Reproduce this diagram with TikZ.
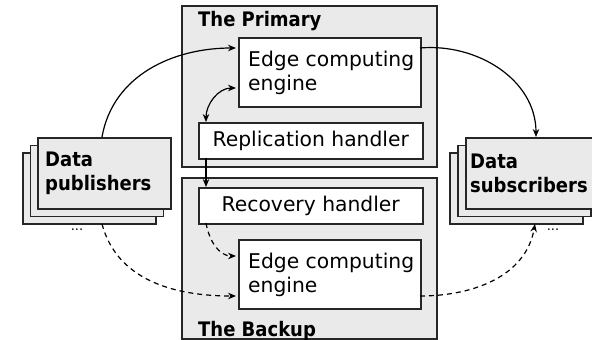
\documentclass[tikz,border=0pt]{standalone}
\usepackage{fontspec}
\setmainfont{DejaVu Sans}
\newfontfamily\condfont{DejaVu Sans Condensed}
\usetikzlibrary{arrows.meta}
\definecolor{panel}{HTML}{EAEAEA}
\tikzset{
  panelbox/.style={draw=black!85, line width=1.5pt, fill=panel},
  whitebox/.style={draw=black!85, line width=1.5pt, fill=white, anchor=north west, inner sep=0pt},
  stackbox/.style={draw=black!85, line width=1.5pt, fill=panel, anchor=north west, inner sep=0pt, minimum width=133pt, minimum height=71pt},
  regtxt/.style={font=\fontsize{20.3}{23.5}\selectfont},
  boldtxt/.style={font=\condfont\bfseries\fontsize{20}{24}\selectfont},
  arr/.style={line width=1.2pt, -{Stealth[length=8pt,width=6.5pt]}},
  darr/.style={line width=1.2pt, {Stealth[length=8pt,width=6.5pt]}-{Stealth[length=8pt,width=6.5pt]}},
  dasharr/.style={arr, dashed, dash pattern=on 5pt off 4pt}
}
\begin{document}
\begin{tikzpicture}[x=1pt,y=-1pt]
\useasboundingbox (0,0) rectangle (592,340);
\clip (0,0) rectangle (592,340);
% containers
\draw[panelbox] (182,6) rectangle (437,167);
\draw[panelbox] (182,178) rectangle (437,339);
\node[boldtxt, anchor=base west, inner sep=0pt] (tp) at (198,27) {The Primary};
\node[boldtxt, anchor=base west, inner sep=0pt] (tb) at (198,336) {The Backup};
% primary
\node[whitebox, minimum width=182pt, minimum height=69pt] (pe) at (238,37) {};
\node[regtxt, anchor=base west, inner sep=0pt, align=left] (pet) at (248,90) {Edge computing\\engine};
\node[whitebox, minimum width=224pt, minimum height=36pt, regtxt] (rh) at (198,122) {Replication handler};
% backup
\node[whitebox, minimum width=224pt, minimum height=36pt, regtxt] (rc) at (198,187) {Recovery handler};
\node[whitebox, minimum width=182pt, minimum height=69pt] (be) at (238,239) {};
\node[regtxt, anchor=base west, inner sep=0pt, align=left] (bet) at (248,292) {Edge computing\\engine};
% publishers
\node[stackbox] (p3) at (22,152) {};
\node[stackbox] (p2) at (29.5,144.5) {};
\node[stackbox] (p1) at (37,137) {};
\node[boldtxt, anchor=base west, inner sep=0pt, align=left] (pt) at (45,190) {Data\\publishers};
\node[font=\fontsize{13}{13}\selectfont, inner sep=0pt] (pd) at (77,230) {...};
% subscribers
\node[stackbox] (s3) at (449,152) {};
\node[stackbox] (s2) at (457,144.5) {};
\node[stackbox] (s1) at (465,137) {};
\node[boldtxt, anchor=base west, inner sep=0pt, align=left] (st) at (470,192) {Data\\subscribers};
\node[font=\fontsize{13}{13}\selectfont, inner sep=0pt] (sd) at (553,230) {...};
% coordinates
\coordinate (pubtop) at (102,137);
\coordinate (pubbot) at (102,224);
\coordinate (pein) at (236,48);
\coordinate (peout) at (420,48);
\coordinate (pel) at (236,88);
\coordinate (subtop) at (536,137);
\coordinate (subbot) at (535,224);
\coordinate (rhtop) at (206,122);
\coordinate (rhbot) at (206,158);
\coordinate (rctop) at (206,187);
\coordinate (rcbot) at (206,223);
\coordinate (bein1) at (236,256);
\coordinate (bein2) at (236,296);
\coordinate (beout) at (420,296);
% arrows
\draw[arr] (pubtop) to[out=80,in=180] (pein);
\draw[arr] (peout) to[out=5,in=90] (subtop);
\draw[darr] (rhtop) to[out=90,in=180] (pel);
\draw[arr] (rhbot) -- (rctop);
\draw[dasharr] (rcbot) to[out=-80,in=180] (bein1);
\draw[dasharr] (pubbot) to[out=-75,in=180] (bein2);
\draw[dasharr] (beout) to[out=0,in=-100] (subbot);
\end{tikzpicture}
\end{document}
